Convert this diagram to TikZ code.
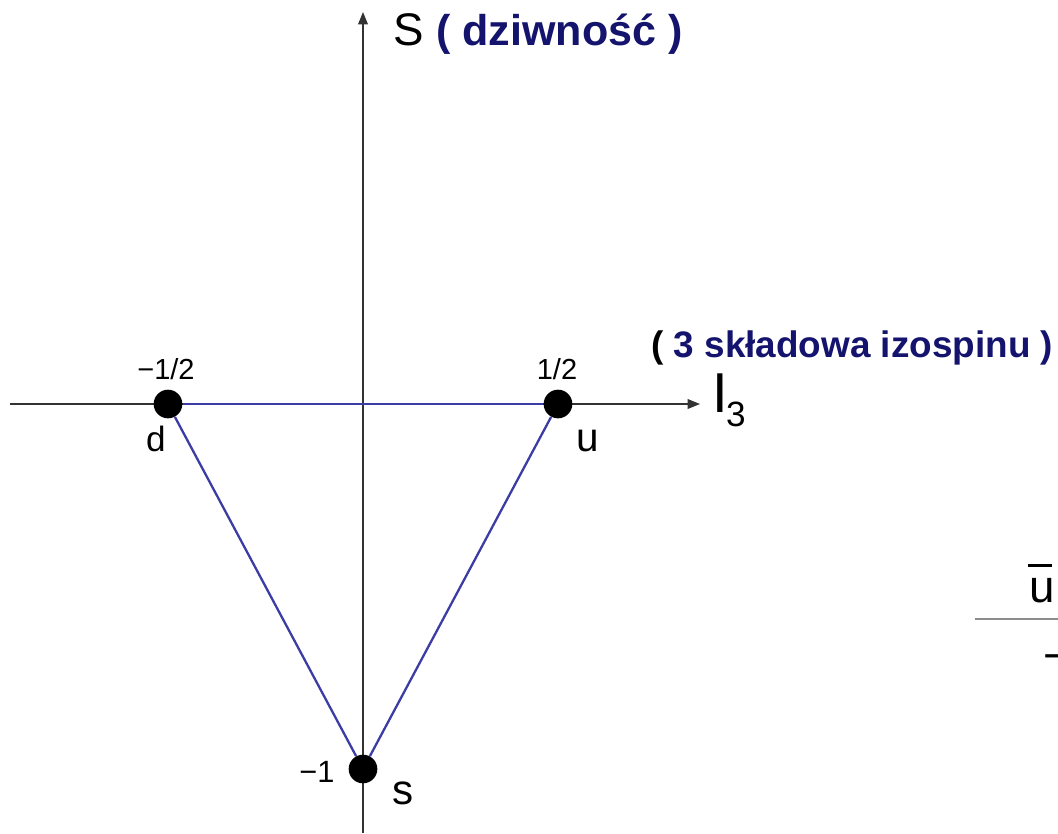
\documentclass[tikz,border=0pt]{standalone}
\usepackage{fontspec}
\setmainfont{Liberation Sans}
\usetikzlibrary{arrows.meta}
\definecolor{navy}{RGB}{20,20,110}
\definecolor{tri}{RGB}{60,60,165}
\begin{document}
\begin{tikzpicture}[x=0.02cm,y=-0.02cm,
  axis/.style={draw=black!80,line width=0.75pt},
  axtip/.style={-{Triangle[length=7pt,width=5.5pt]}},
  edge/.style={draw=tri,line width=1.3pt},
  dot/.style={circle,fill=black,inner sep=0pt,minimum size=16.3pt},
  lbl/.style={inner sep=0pt}]
\useasboundingbox[fill=white] (0,0) rectangle (1058,833);
\coordinate (yb) at (363,833);
\coordinate (yt) at (363,12);
\coordinate (xl) at (10,404);
\coordinate (xr) at (700,404);
\draw[axis,axtip] (yb) -- (yt);
\draw[axis,axtip] (xl) -- (xr);
\node[dot] (d) at (168,404) {};
\node[dot] (u) at (558,404) {};
\node[dot] (s) at (363,769) {};
\draw[edge] (d) -- (u);
\draw[edge] (u) -- (s);
\draw[edge] (s) -- (d);
\node[lbl,font=\fontsize{16.5}{16.5}\selectfont] (ld) at (166,369) {−1/2};
\node[lbl,font=\fontsize{16.5}{16.5}\selectfont] (lu) at (557,369) {1/2};
\node[lbl,font=\fontsize{17.5}{17.5}\selectfont] (lsv) at (317,772) {−1};
\node[lbl,font=\fontsize{20}{20}\selectfont] (nd) at (156,439) {d};
\node[lbl,font=\fontsize{23}{23}\selectfont] (nu) at (588,441) {u};
\node[lbl,font=\fontsize{24}{24}\selectfont] (ns) at (403,793) {s};
\node[lbl,anchor=base west,font=\fontsize{26}{26}\selectfont] (S) at (393,45) {S};
\node[lbl,anchor=base west,text=navy,font=\fontsize{24.5}{24.5}\selectfont\bfseries] (dz) at (436,45) {( dziwność )};
\node[lbl,anchor=base west,font=\fontsize{32}{32}\selectfont] (I3) at (712,412) {I\kern-1pt\raisebox{-8.5pt}{\fontsize{20}{20}\selectfont 3}};
\node[lbl,anchor=base west,font=\fontsize{21}{21}\selectfont\bfseries] (iz) at (651,357) {(\ \textcolor{navy}{3 składowa izospinu )}};
\node[lbl,anchor=base west,font=\fontsize{26}{26}\selectfont] (ubar) at (1029,602) {\rlap{\kern-1pt\raisebox{20pt}{\rule{14pt}{1.6pt}}}u};
\coordinate (la) at (975,619);
\coordinate (lb) at (1058,619);
\draw[draw=black!45,line width=1.5pt] (la) -- (lb);
\node[lbl,anchor=west,font=\fontsize{26}{26}\selectfont] (mn) at (1043,663) {−};
\end{tikzpicture}
\end{document}
